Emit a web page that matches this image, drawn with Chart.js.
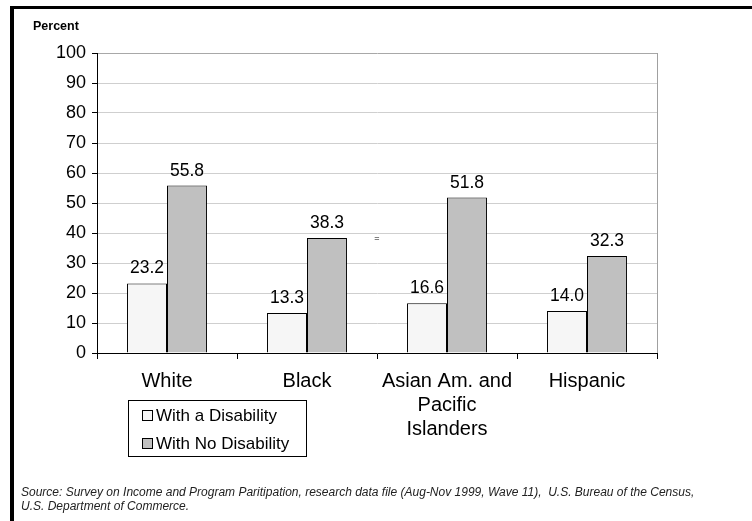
<!DOCTYPE html>
<html>
<head>
<meta charset="utf-8">
<script src="https://cdn.jsdelivr.net/npm/chart.js@4.4.0/dist/chart.umd.min.js"></script>
<style>
  html, body { margin: 0; padding: 0; background: #fff; }
  #wrap { width: 752px; height: 521px; position: relative; }
</style>
</head>
<body>
<div id="wrap"><canvas id="chart" width="752" height="521"></canvas></div>
<script>
// data
const groups = ['White', 'Black', ['Asian Am. and', 'Pacific', 'Islanders'], 'Hispanic'];
const withDisability = [23.2, 13.3, 16.6, 14.0];
const noDisability = [55.8, 38.3, 51.8, 32.3];
const seriesNames = ['With a Disability', 'With No Disability'];
const yTicks = [0, 10, 20, 30, 40, 50, 60, 70, 80, 90, 100];
const sourceLines = [
  'Source: Survey on Income and Program Paritipation, research data file (Aug-Nov 1999, Wave 11),  U.S. Bureau of the Census,',
  'U.S. Department of Commerce.'
];

const FONT = 'Arial, "Liberation Sans", sans-serif';

const extras = {
  id: 'extras',
  afterDatasetsDraw(chart) {
    const ctx = chart.ctx;
    const area = chart.chartArea;
    ctx.save();
    // plot right edge
    ctx.strokeStyle = '#a0a0a0';
    ctx.lineWidth = 1;
    ctx.beginPath();
    ctx.moveTo(Math.round(area.right) + 0.5, area.top);
    ctx.lineTo(Math.round(area.right) + 0.5, area.bottom);
    ctx.stroke();

    // value labels
    ctx.fillStyle = '#000';
    ctx.font = '17.5px ' + FONT;
    ctx.textAlign = 'center';
    ctx.textBaseline = 'alphabetic';
    chart.data.datasets.forEach((ds, i) => {
      chart.getDatasetMeta(i).data.forEach((bar, j) => {
        ctx.fillText(ds.data[j].toFixed(1), bar.x, bar.y - 10);
      });
    });

    // stray mark
    ctx.font = '9px ' + FONT;
    ctx.textBaseline = 'middle';
    ctx.fillText('=', 377, 239);
    ctx.restore();
  },
  afterDraw(chart) {
    const ctx = chart.ctx;
    ctx.save();
    // outer frame (clipped on the right/bottom)
    ctx.fillStyle = '#000';
    ctx.fillRect(10, 6, 742, 3);
    ctx.fillRect(10, 6, 4, 515);

    // axis title
    ctx.font = 'bold 12.5px ' + FONT;
    ctx.textAlign = 'left';
    ctx.textBaseline = 'middle';
    ctx.fillText('Percent', 33, 27);

    // legend
    const lx = 128, ly = 400, lw = 178, lh = 56;
    ctx.fillStyle = '#fff';
    ctx.fillRect(lx, ly, lw, lh);
    ctx.strokeStyle = '#000';
    ctx.lineWidth = 1;
    ctx.strokeRect(lx + 0.5, ly + 0.5, lw, lh);
    ctx.font = '17px ' + FONT;
    ctx.textBaseline = 'middle';
    chart.data.datasets.forEach((ds, i) => {
      const cy = ly + 15 + i * 28;
      ctx.fillStyle = ds.backgroundColor;
      ctx.fillRect(142, cy - 5, 11, 11);
      ctx.strokeStyle = '#000';
      ctx.strokeRect(142.5, cy - 4.5, 10, 10);
      ctx.fillStyle = '#000';
      ctx.fillText(ds.label, 156, cy + 1);
    });

    // source note
    ctx.fillStyle = '#222';
    ctx.font = 'italic 12px ' + FONT;
    ctx.textBaseline = 'middle';
    sourceLines.forEach((s, i) => ctx.fillText(s, 21, 493 + i * 14));
    ctx.restore();
  }
};

const chart = new Chart(document.getElementById('chart').getContext('2d'), {
  type: 'bar',
  data: {
    labels: groups,
    datasets: [{
      label: seriesNames[0],
      data: withDisability,
      backgroundColor: '#f6f6f6',
      borderColor: '#000',
      borderWidth: 1,
      barPercentage: 1,
      categoryPercentage: 0.571
    }, {
      label: seriesNames[1],
      data: noDisability,
      backgroundColor: '#c0c0c0',
      borderColor: '#000',
      borderWidth: 1,
      barPercentage: 1,
      categoryPercentage: 0.571
    }]
  },
  options: {
    responsive: false,
    animation: false,
    events: [],
    layout: { padding: { top: 53, left: 0, right: 95, bottom: 0 } },
    plugins: {
      legend: { display: false },
      tooltip: { enabled: false }
    },
    scales: {
      x: {
        afterFit: s => { s.height = 168; },
        grid: {
          offset: true,
          drawOnChartArea: false,
          drawTicks: true,
          tickLength: 6,
          tickColor: '#000'
        },
        border: { color: '#000', width: 1 },
        ticks: {
          color: '#000',
          padding: 10,
          font: { family: FONT, size: 20, lineHeight: 1.2 }
        }
      },
      y: {
        min: 0,
        max: 100,
        afterFit: s => { s.width = 97; },
        afterBuildTicks: s => { s.ticks = yTicks.map(v => ({ value: v })); },
        grid: {
          color: ctx => ctx.tick && ctx.tick.value === 100 ? '#a8a8a8' : '#cfcfcf',
          tickColor: '#000',
          tickLength: 5
        },
        border: { color: '#000', width: 1 },
        ticks: {
          color: '#000',
          padding: 6,
          font: { family: FONT, size: 18 }
        }
      }
    }
  },
  plugins: [extras]
});
</script>
</body>
</html>
